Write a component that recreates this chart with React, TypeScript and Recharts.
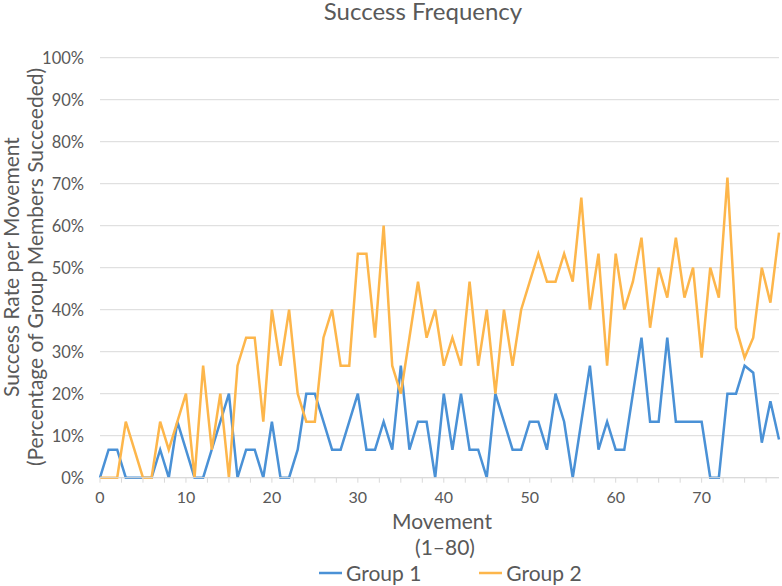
import { CartesianGrid, Line, LineChart, XAxis, YAxis } from 'recharts';

const movements = Array.from({ length: 80 }, (_, i) => i);

const group1 = [
  0, 6.67, 6.67, 0, 0, 0, 0, 6.67, 0, 13.33,
  6.67, 0, 0, 6.67, 13.33, 20, 0, 6.67, 6.67, 0,
  13.33, 0, 0, 6.67, 20, 20, 13.33, 6.67, 6.67, 13.33,
  20, 6.67, 6.67, 13.33, 6.67, 26.67, 6.67, 13.33, 13.33, 0,
  20, 6.67, 20, 6.67, 6.67, 0, 20, 13.33, 6.67, 6.67,
  13.33, 13.33, 6.67, 20, 13.33, 0, 13.33, 26.67, 6.67, 13.33,
  6.67, 6.67, 20, 33.33, 13.33, 13.33, 33.33, 13.33, 13.33, 13.33,
  13.33, 0, 0, 20, 20, 26.67, 25, 8.33, 18.18, 9.09,
];

const group2 = [
  0, 0, 0, 13.33, 6.67, 0, 0, 13.33, 6.67, 13.33,
  20, 0, 26.67, 6.67, 20, 0, 26.67, 33.33, 33.33, 13.33,
  40, 26.67, 40, 20, 13.33, 13.33, 33.33, 40, 26.67, 26.67,
  53.33, 53.33, 33.33, 60, 26.67, 20, 33.33, 46.67, 33.33, 40,
  26.67, 33.33, 26.67, 46.67, 26.67, 40, 20, 40, 26.67, 40,
  46.67, 53.33, 46.67, 46.67, 53.33, 46.67, 66.67, 40, 53.33, 26.67,
  53.33, 40, 46.67, 57.14, 35.71, 50, 42.86, 57.14, 42.86, 50,
  28.57, 50, 42.86, 71.43, 35.71, 28.57, 33.33, 50, 41.67, 58.33,
];

const xTicks = [0, 2.5, 5, 7.5, 10, 12.5, 15, 17.5, 20, 22.5, 25, 27.5, 30, 32.5, 35, 37.5, 40, 42.5, 45, 47.5, 50, 52.5, 55, 57.5, 60, 62.5, 65, 67.5, 70, 72.5, 75, 77.5];
const yTicks = [0, 10, 20, 30, 40, 50, 60, 70, 80, 90, 100];

const BLUE = '#4a91d6';
const ORANGE = '#fdb64b';
const FONT = 'Lato, "Open Sans", sans-serif';
const TEXT = '#595959';

function ChartLegend() {
  const item = (color: string, label: string) => (
    <div style={{ display: 'flex', alignItems: 'center' }}>
      <svg width={25} height={4} style={{ marginRight: 2 }}>
        <line x1={0} y1={2} x2={23} y2={2} stroke={color} strokeWidth={2.5} />
      </svg>
      <span>{label}</span>
    </div>
  );
  return (
    <div style={{ position: 'absolute', left: 319, top: 560, display: 'flex', gap: 58, fontFamily: FONT, fontSize: 21, color: TEXT, lineHeight: '26px' }}>
      {item(BLUE, 'Group 1')}
      {item(ORANGE, 'Group 2')}
    </div>
  );
}

export default function App() {
  const data = movements.map((m, i) => ({ movement: m, g1: group1[i], g2: group2[i] }));

  return (
    <div style={{ position: 'absolute', left: 0, top: 0, width: 782, height: 586, background: '#fff', overflow: 'hidden' }}>
      <LineChart width={782} height={586} data={data} margin={{ top: 57.7, right: 3, left: 30, bottom: 78.3 }}>
        <CartesianGrid vertical={false} stroke="#d9d9d9" />
        <XAxis
          dataKey="movement"
          type="number"
          domain={[0, 79]}
          ticks={xTicks}
          interval={0}
          height={30}
          tickSize={5}
          tickMargin={9}
          stroke="#d9d9d9"
          tickFormatter={(v) => (v % 10 === 0 ? String(v) : '')}
          tick={{ fill: TEXT, fontSize: 16, fontFamily: FONT }}
        />
        <YAxis
          domain={[0, 100]}
          ticks={yTicks}
          width={70}
          axisLine={false}
          tickLine={false}
          tickSize={6}
          tickMargin={10}
          tickFormatter={(v) => `${v}%`}
          tick={{ fill: TEXT, fontSize: 16.5, fontFamily: FONT }}
        />
        <Line type="linear" dataKey="g1" name="Group 1" stroke={BLUE} strokeWidth={2.5} dot={false} isAnimationActive={false} />
        <Line type="linear" dataKey="g2" name="Group 2" stroke={ORANGE} strokeWidth={2.5} dot={false} isAnimationActive={false} />
      </LineChart>
      <ChartLegend />
      <svg width={782} height={586} style={{ position: 'absolute', left: 0, top: 0, pointerEvents: 'none' }}>
        <g fontFamily={FONT} fill={TEXT}>
          <text x={423} y={19.5} fontSize={24} textAnchor="middle">Success Frequency</text>
          <text x={442} y={529} fontSize={21} textAnchor="middle">Movement</text>
          <text x={445} y={555} fontSize={21} textAnchor="middle">(1–80)</text>
          <text transform="translate(19,267) rotate(-90)" fontSize={21} textAnchor="middle">Success Rate per Movement</text>
          <text transform="translate(43,267) rotate(-90)" fontSize={21} textAnchor="middle">(Percentage of Group Members Succeeded)</text>
        </g>
      </svg>
    </div>
  );
}
